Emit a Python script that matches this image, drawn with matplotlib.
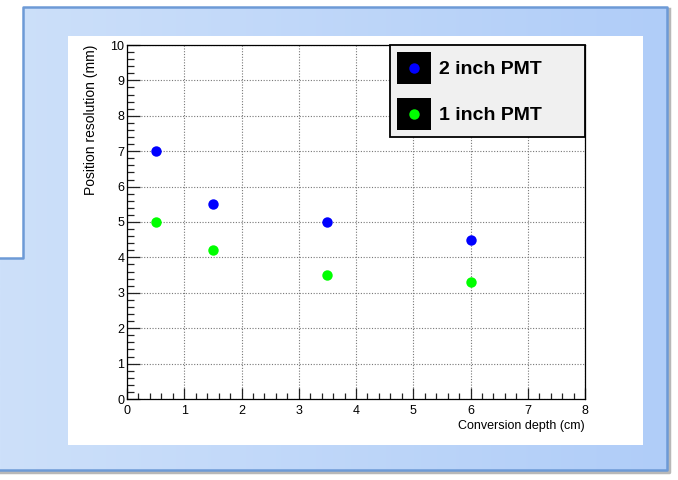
import numpy as np
import matplotlib
matplotlib.use("Agg")
import matplotlib.pyplot as plt
from matplotlib.patches import Rectangle
from matplotlib.lines import Line2D
from matplotlib.legend_handler import HandlerBase
from matplotlib.ticker import MultipleLocator

plt.rcParams['font.family'] = ['Liberation Sans', 'DejaVu Sans']

# data
depth = [0.5, 1.5, 3.5, 6.0]
res_2inch = [7.0, 5.5, 5.0, 4.5]
res_1inch = [5.0, 4.2, 3.5, 3.3]
series_labels = ["2 inch PMT", "1 inch PMT"]
series_colors = ["#0000ff", "#00ff00"]


class BoxDotHandler(HandlerBase):
    """ ROOT-like legend entry: black box with the marker in its middle. """

    def create_artists(self, legend, orig_handle, xdescent, ydescent,
                       width, height, fontsize, trans):
        box = Rectangle((-xdescent, -ydescent), width, height, facecolor='black',
                        edgecolor='none', transform=trans)
        dot = Line2D([-xdescent + width / 2], [-ydescent + height / 2], marker='o',
                     linestyle='none', color=orig_handle.get_color(),
                     markersize=orig_handle.get_markersize(), markeredgewidth=0,
                     transform=trans)
        return [box, dot]


W, H = 678, 480
fig = plt.figure(figsize=(W / 100, H / 100), dpi=100)

# slide-like background (pixel coords)
bg = fig.add_axes([0, 0, 1, 1], zorder=-10)
bg.set_xlim(0, W)
bg.set_ylim(H, 0)
bg.axis('off')
grad = np.linspace(0, 1, 256)[None, :, None]
c0 = np.array([205, 224, 250]) / 255.
c1 = np.array([176, 205, 248]) / 255.
img = c0 * (1 - grad) + c1 * grad
bg.imshow(img, extent=(0, 667, 470, 7), aspect='auto', zorder=1)
bg.add_patch(Rectangle((0, 0), 23, 258, facecolor='white', edgecolor='none', zorder=2))
bg.plot([669, 669, 0], [9, 472, 472], color='#b8b8b8', lw=2.5, zorder=2)
bg.plot([0, 23, 23, 667, 667, 0], [258, 258, 7, 7, 470, 470],
        color='#6d9ad6', lw=1.8, zorder=3)
bg.add_patch(Rectangle((68, 36), 575, 409, facecolor='white', edgecolor='none', zorder=4))

# main plot
ax = fig.add_axes([127 / W, 1 - 399 / H, 458 / W, 354 / H])
l2, = ax.plot(depth, res_2inch, 'o', color=series_colors[0], markersize=7.5,
              markeredgewidth=0, zorder=5)
l1, = ax.plot(depth, res_1inch, 'o', color=series_colors[1], markersize=7.5,
              markeredgewidth=0, zorder=5)

ax.set_xlim(0, 8)
ax.set_ylim(0, 10)
ax.xaxis.set_major_locator(MultipleLocator(1))
ax.yaxis.set_major_locator(MultipleLocator(1))
ax.xaxis.set_minor_locator(MultipleLocator(0.2))
ax.yaxis.set_minor_locator(MultipleLocator(0.2))
ax.tick_params(which='both', direction='in', top=False, right=False,
               color='#222222', labelsize=9, width=0.9)
ax.tick_params(axis='y', which='major', length=9.5, pad=2)
ax.tick_params(axis='y', which='minor', length=4.8)
ax.tick_params(axis='x', which='major', length=8, pad=4.5)
ax.tick_params(axis='x', which='minor', length=4)
ax.grid(True, which='major', linestyle=(0, (1, 1.5)), color='#777777', lw=0.8)
ax.set_axisbelow(True)
for s in ax.spines.values():
    s.set_linewidth(0.9)
    s.set_color('black')

ax.set_xlabel("Conversion depth (cm)", fontsize=9, loc='right')
ax.set_ylabel("Position resolution (mm)", fontsize=10, loc='top')
ax.xaxis.set_label_coords(1.0, -0.058)
ax.yaxis.set_label_coords(-0.064, 1.0)

leg = ax.legend([l2, l1], series_labels, handler_map={Line2D: BoxDotHandler()},
                loc='upper left', bbox_to_anchor=(0.574, 0, 0.426, 1.0), mode='expand',
                borderaxespad=0, fancybox=False, framealpha=1, edgecolor='black',
                facecolor='#f0f0f0', prop={'weight': 'bold', 'size': 14},
                handlelength=1.75, handleheight=2.155, handletextpad=0.42,
                borderpad=0.36, labelspacing=0.72)
leg.get_frame().set_linewidth(1.3)

fig.savefig("out.png", dpi=100)
